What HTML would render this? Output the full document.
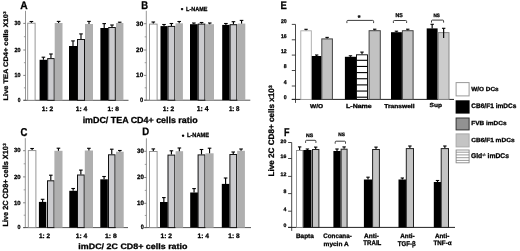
<!DOCTYPE html>
<html><head><meta charset="utf-8"><style>
html,body{margin:0;padding:0;background:#fff;}
svg{display:block;filter:blur(0.3px);}
text{font-family:"Liberation Sans",sans-serif;stroke:#000;stroke-width:0.28px;text-rendering:geometricPrecision;}
</style></head><body>
<svg width="520" height="251" viewBox="0 0 520 251">
<rect width="520" height="251" fill="#fff"/>
<line x1="25.50" y1="10.80" x2="25.50" y2="100.30" stroke="#8a8a8a" stroke-width="0.9"/>
<line x1="23.30" y1="100.30" x2="25.50" y2="100.30" stroke="#777" stroke-width="0.9"/>
<line x1="23.30" y1="75.40" x2="25.50" y2="75.40" stroke="#777" stroke-width="0.9"/>
<line x1="23.30" y1="50.00" x2="25.50" y2="50.00" stroke="#777" stroke-width="0.9"/>
<line x1="23.30" y1="23.40" x2="25.50" y2="23.40" stroke="#777" stroke-width="0.9"/>
<line x1="23.90" y1="87.85" x2="25.50" y2="87.85" stroke="#888" stroke-width="0.8"/>
<line x1="23.90" y1="62.70" x2="25.50" y2="62.70" stroke="#888" stroke-width="0.8"/>
<line x1="23.90" y1="36.70" x2="25.50" y2="36.70" stroke="#888" stroke-width="0.8"/>
<line x1="23.50" y1="100.30" x2="128.50" y2="100.30" stroke="#555" stroke-width="1"/>
<rect x="27.70" y="23.20" width="7.40" height="77.10" fill="#fff" stroke="#8a8a8a" stroke-width="0.9"/>
<line x1="31.40" y1="22.70" x2="31.40" y2="21.50" stroke="#000" stroke-width="1.15"/>
<line x1="29.60" y1="21.50" x2="33.20" y2="21.50" stroke="#000" stroke-width="1.1"/>
<rect x="39.60" y="59.80" width="7.60" height="40.50" fill="#000"/>
<line x1="43.40" y1="59.80" x2="43.40" y2="57.20" stroke="#000" stroke-width="1.15"/>
<line x1="41.60" y1="57.20" x2="45.20" y2="57.20" stroke="#000" stroke-width="1.1"/>
<rect x="47.70" y="58.60" width="6.50" height="41.70" fill="#cbcbce" stroke="#111" stroke-width="1"/>
<line x1="50.95" y1="58.10" x2="50.95" y2="54.00" stroke="#000" stroke-width="1.15"/>
<line x1="49.15" y1="54.00" x2="52.75" y2="54.00" stroke="#000" stroke-width="1.1"/>
<rect x="54.70" y="23.00" width="7.80" height="77.30" fill="#afafaf"/>
<line x1="58.60" y1="23.00" x2="58.60" y2="21.40" stroke="#000" stroke-width="1.15"/>
<line x1="56.80" y1="21.40" x2="60.40" y2="21.40" stroke="#000" stroke-width="1.1"/>
<rect x="69.00" y="46.00" width="8.00" height="54.30" fill="#000"/>
<line x1="73.00" y1="46.00" x2="73.00" y2="40.90" stroke="#000" stroke-width="1.15"/>
<line x1="71.20" y1="40.90" x2="74.80" y2="40.90" stroke="#000" stroke-width="1.1"/>
<rect x="77.50" y="39.50" width="7.00" height="60.80" fill="#cbcbce" stroke="#111" stroke-width="1"/>
<line x1="81.00" y1="39.00" x2="81.00" y2="33.90" stroke="#000" stroke-width="1.15"/>
<line x1="79.20" y1="33.90" x2="82.80" y2="33.90" stroke="#000" stroke-width="1.1"/>
<rect x="85.00" y="24.00" width="8.00" height="76.30" fill="#afafaf"/>
<line x1="89.00" y1="24.00" x2="89.00" y2="21.40" stroke="#000" stroke-width="1.15"/>
<line x1="87.20" y1="21.40" x2="90.80" y2="21.40" stroke="#000" stroke-width="1.1"/>
<rect x="100.40" y="28.00" width="7.60" height="72.30" fill="#000"/>
<line x1="104.20" y1="28.00" x2="104.20" y2="23.60" stroke="#000" stroke-width="1.15"/>
<line x1="102.40" y1="23.60" x2="106.00" y2="23.60" stroke="#000" stroke-width="1.1"/>
<rect x="108.70" y="27.50" width="6.60" height="72.80" fill="#cbcbce" stroke="#111" stroke-width="1"/>
<line x1="112.00" y1="27.00" x2="112.00" y2="25.00" stroke="#000" stroke-width="1.15"/>
<line x1="110.20" y1="25.00" x2="113.80" y2="25.00" stroke="#000" stroke-width="1.1"/>
<rect x="116.00" y="23.00" width="7.40" height="77.30" fill="#afafaf"/>
<line x1="119.70" y1="23.00" x2="119.70" y2="22.20" stroke="#000" stroke-width="1.15"/>
<line x1="117.90" y1="22.20" x2="121.50" y2="22.20" stroke="#000" stroke-width="1.1"/>
<text x="17.70" y="102.09" font-size="6.06" text-anchor="start" font-weight="bold" fill="#000" textLength="2.71" lengthAdjust="spacingAndGlyphs" >0</text>
<text x="14.40" y="77.19" font-size="6.06" text-anchor="start" font-weight="bold" fill="#000" textLength="6.01" lengthAdjust="spacingAndGlyphs" >10</text>
<text x="14.40" y="51.79" font-size="6.06" text-anchor="start" font-weight="bold" fill="#000" textLength="6.01" lengthAdjust="spacingAndGlyphs" >20</text>
<text x="14.40" y="25.19" font-size="6.06" text-anchor="start" font-weight="bold" fill="#000" textLength="6.01" lengthAdjust="spacingAndGlyphs" >30</text>
<text x="20.25" y="8.85" font-size="11.01" text-anchor="start" font-weight="bold" fill="#000" textLength="7.42" lengthAdjust="spacingAndGlyphs" >A</text>
<text x="41.70" y="110.70" font-size="6.43" text-anchor="start" font-weight="bold" fill="#000" textLength="11.49" lengthAdjust="spacingAndGlyphs" >1: 2</text>
<text x="75.80" y="110.50" font-size="6.52" text-anchor="start" font-weight="bold" fill="#000" textLength="11.49" lengthAdjust="spacingAndGlyphs" >1: 4</text>
<text x="107.50" y="110.64" font-size="6.34" text-anchor="start" font-weight="bold" fill="#000" textLength="11.39" lengthAdjust="spacingAndGlyphs" >1: 8</text>
<text x="82.65" y="123.08" font-size="8.72" text-anchor="start" font-weight="bold" fill="#000" textLength="114.99" lengthAdjust="spacingAndGlyphs" >imDC/ TEA CD4+ cells ratio</text>
<g transform="translate(8.00,100.40) rotate(-90)"><text x="0.00" y="0" font-size="6.62" font-weight="bold" textLength="86.38" lengthAdjust="spacingAndGlyphs">Live TEA CD4+ cells X10</text><text x="86.68" y="-1.91" font-size="3.97" font-weight="bold">3</text></g>
<line x1="146.30" y1="10.80" x2="146.30" y2="100.20" stroke="#8a8a8a" stroke-width="0.9"/>
<line x1="144.10" y1="100.20" x2="146.30" y2="100.20" stroke="#777" stroke-width="0.9"/>
<line x1="144.10" y1="75.40" x2="146.30" y2="75.40" stroke="#777" stroke-width="0.9"/>
<line x1="144.10" y1="50.00" x2="146.30" y2="50.00" stroke="#777" stroke-width="0.9"/>
<line x1="144.10" y1="23.70" x2="146.30" y2="23.70" stroke="#777" stroke-width="0.9"/>
<line x1="144.70" y1="87.80" x2="146.30" y2="87.80" stroke="#888" stroke-width="0.8"/>
<line x1="144.70" y1="62.70" x2="146.30" y2="62.70" stroke="#888" stroke-width="0.8"/>
<line x1="144.70" y1="36.85" x2="146.30" y2="36.85" stroke="#888" stroke-width="0.8"/>
<line x1="144.30" y1="100.20" x2="250.30" y2="100.20" stroke="#555" stroke-width="1"/>
<rect x="149.50" y="24.10" width="7.60" height="76.10" fill="#fff" stroke="#8a8a8a" stroke-width="0.9"/>
<line x1="153.30" y1="23.60" x2="153.30" y2="22.00" stroke="#000" stroke-width="1.15"/>
<line x1="151.50" y1="22.00" x2="155.10" y2="22.00" stroke="#000" stroke-width="1.1"/>
<rect x="160.50" y="26.10" width="7.00" height="74.10" fill="#000"/>
<line x1="164.00" y1="26.10" x2="164.00" y2="24.50" stroke="#000" stroke-width="1.15"/>
<line x1="162.20" y1="24.50" x2="165.80" y2="24.50" stroke="#000" stroke-width="1.1"/>
<rect x="168.00" y="26.40" width="6.80" height="73.80" fill="#cbcbce" stroke="#111" stroke-width="1"/>
<line x1="171.40" y1="25.90" x2="171.40" y2="23.50" stroke="#000" stroke-width="1.15"/>
<line x1="169.60" y1="23.50" x2="173.20" y2="23.50" stroke="#000" stroke-width="1.1"/>
<rect x="175.50" y="23.30" width="7.40" height="76.90" fill="#afafaf"/>
<line x1="179.20" y1="23.30" x2="179.20" y2="21.50" stroke="#000" stroke-width="1.15"/>
<line x1="177.40" y1="21.50" x2="181.00" y2="21.50" stroke="#000" stroke-width="1.1"/>
<rect x="190.00" y="24.20" width="7.70" height="76.00" fill="#000"/>
<line x1="193.85" y1="24.20" x2="193.85" y2="23.00" stroke="#000" stroke-width="1.15"/>
<line x1="192.05" y1="23.00" x2="195.65" y2="23.00" stroke="#000" stroke-width="1.1"/>
<rect x="198.20" y="24.10" width="6.70" height="76.10" fill="#cbcbce" stroke="#111" stroke-width="1"/>
<line x1="201.55" y1="23.60" x2="201.55" y2="22.50" stroke="#000" stroke-width="1.15"/>
<line x1="199.75" y1="22.50" x2="203.35" y2="22.50" stroke="#000" stroke-width="1.1"/>
<rect x="205.50" y="24.20" width="8.50" height="76.00" fill="#afafaf"/>
<line x1="209.75" y1="24.20" x2="209.75" y2="23.00" stroke="#000" stroke-width="1.15"/>
<line x1="207.95" y1="23.00" x2="211.55" y2="23.00" stroke="#000" stroke-width="1.1"/>
<rect x="222.20" y="24.90" width="7.40" height="75.30" fill="#000"/>
<line x1="225.90" y1="24.90" x2="225.90" y2="23.50" stroke="#000" stroke-width="1.15"/>
<line x1="224.10" y1="23.50" x2="227.70" y2="23.50" stroke="#000" stroke-width="1.1"/>
<rect x="230.10" y="24.70" width="6.70" height="75.50" fill="#cbcbce" stroke="#111" stroke-width="1"/>
<line x1="233.45" y1="24.20" x2="233.45" y2="21.70" stroke="#000" stroke-width="1.15"/>
<line x1="231.65" y1="21.70" x2="235.25" y2="21.70" stroke="#000" stroke-width="1.1"/>
<rect x="237.80" y="23.60" width="7.50" height="76.60" fill="#afafaf"/>
<line x1="241.55" y1="23.60" x2="241.55" y2="20.40" stroke="#000" stroke-width="1.15"/>
<line x1="239.75" y1="20.40" x2="243.35" y2="20.40" stroke="#000" stroke-width="1.1"/>
<text x="140.00" y="102.09" font-size="6.34" text-anchor="start" font-weight="bold" fill="#000" textLength="3.20" lengthAdjust="spacingAndGlyphs" >0</text>
<text x="136.10" y="77.29" font-size="6.34" text-anchor="start" font-weight="bold" fill="#000" textLength="7.11" lengthAdjust="spacingAndGlyphs" >10</text>
<text x="136.10" y="51.89" font-size="6.34" text-anchor="start" font-weight="bold" fill="#000" textLength="7.11" lengthAdjust="spacingAndGlyphs" >20</text>
<text x="136.10" y="25.59" font-size="6.34" text-anchor="start" font-weight="bold" fill="#000" textLength="7.11" lengthAdjust="spacingAndGlyphs" >30</text>
<text x="141.25" y="8.85" font-size="11.16" text-anchor="start" font-weight="bold" fill="#000" textLength="6.82" lengthAdjust="spacingAndGlyphs" >B</text>
<text x="162.70" y="111.20" font-size="6.43" text-anchor="start" font-weight="bold" fill="#000" textLength="11.49" lengthAdjust="spacingAndGlyphs" >1: 2</text>
<text x="196.80" y="111.40" font-size="7.25" text-anchor="start" font-weight="bold" fill="#000" textLength="11.79" lengthAdjust="spacingAndGlyphs" >1: 4</text>
<text x="228.90" y="111.33" font-size="7.04" text-anchor="start" font-weight="bold" fill="#000" textLength="10.59" lengthAdjust="spacingAndGlyphs" >1: 8</text>
<line x1="180.90" y1="9.05" x2="183.20" y2="9.05" stroke="#000" stroke-width="1.3"/>
<line x1="182.05" y1="7.90" x2="182.05" y2="10.20" stroke="#000" stroke-width="1.3"/>
<text x="186.10" y="10.90" font-size="5.94" text-anchor="start" font-weight="bold" fill="#000" textLength="21.39" lengthAdjust="spacingAndGlyphs" >L-NAME</text>
<line x1="25.30" y1="138.20" x2="25.30" y2="227.60" stroke="#8a8a8a" stroke-width="0.9"/>
<line x1="23.10" y1="227.60" x2="25.30" y2="227.60" stroke="#777" stroke-width="0.9"/>
<line x1="23.10" y1="202.80" x2="25.30" y2="202.80" stroke="#777" stroke-width="0.9"/>
<line x1="23.10" y1="176.90" x2="25.30" y2="176.90" stroke="#777" stroke-width="0.9"/>
<line x1="23.10" y1="150.70" x2="25.30" y2="150.70" stroke="#777" stroke-width="0.9"/>
<line x1="23.70" y1="215.20" x2="25.30" y2="215.20" stroke="#888" stroke-width="0.8"/>
<line x1="23.70" y1="189.85" x2="25.30" y2="189.85" stroke="#888" stroke-width="0.8"/>
<line x1="23.70" y1="163.80" x2="25.30" y2="163.80" stroke="#888" stroke-width="0.8"/>
<line x1="23.30" y1="227.60" x2="128.00" y2="227.60" stroke="#555" stroke-width="1"/>
<rect x="28.30" y="150.60" width="7.60" height="77.00" fill="#fff" stroke="#8a8a8a" stroke-width="0.9"/>
<line x1="32.10" y1="150.10" x2="32.10" y2="148.50" stroke="#000" stroke-width="1.15"/>
<line x1="30.30" y1="148.50" x2="33.90" y2="148.50" stroke="#000" stroke-width="1.1"/>
<rect x="38.90" y="201.90" width="7.40" height="25.70" fill="#000"/>
<line x1="42.60" y1="201.90" x2="42.60" y2="199.30" stroke="#000" stroke-width="1.15"/>
<line x1="40.80" y1="199.30" x2="44.40" y2="199.30" stroke="#000" stroke-width="1.1"/>
<rect x="47.50" y="180.80" width="6.60" height="46.80" fill="#cbcbce" stroke="#111" stroke-width="1"/>
<line x1="50.80" y1="180.30" x2="50.80" y2="175.20" stroke="#000" stroke-width="1.15"/>
<line x1="49.00" y1="175.20" x2="52.60" y2="175.20" stroke="#000" stroke-width="1.1"/>
<rect x="54.40" y="150.80" width="8.10" height="76.80" fill="#afafaf"/>
<line x1="58.45" y1="150.80" x2="58.45" y2="148.20" stroke="#000" stroke-width="1.15"/>
<line x1="56.65" y1="148.20" x2="60.25" y2="148.20" stroke="#000" stroke-width="1.1"/>
<rect x="69.30" y="190.80" width="7.70" height="36.80" fill="#000"/>
<line x1="73.15" y1="190.80" x2="73.15" y2="188.50" stroke="#000" stroke-width="1.15"/>
<line x1="71.35" y1="188.50" x2="74.95" y2="188.50" stroke="#000" stroke-width="1.1"/>
<rect x="77.50" y="175.00" width="6.70" height="52.60" fill="#cbcbce" stroke="#111" stroke-width="1"/>
<line x1="80.85" y1="174.50" x2="80.85" y2="170.10" stroke="#000" stroke-width="1.15"/>
<line x1="79.05" y1="170.10" x2="82.65" y2="170.10" stroke="#000" stroke-width="1.1"/>
<rect x="84.80" y="150.50" width="8.20" height="77.10" fill="#afafaf"/>
<line x1="88.90" y1="150.50" x2="88.90" y2="148.30" stroke="#000" stroke-width="1.15"/>
<line x1="87.10" y1="148.30" x2="90.70" y2="148.30" stroke="#000" stroke-width="1.1"/>
<rect x="100.30" y="179.30" width="7.50" height="48.30" fill="#000"/>
<line x1="104.05" y1="179.30" x2="104.05" y2="176.50" stroke="#000" stroke-width="1.15"/>
<line x1="102.25" y1="176.50" x2="105.85" y2="176.50" stroke="#000" stroke-width="1.1"/>
<rect x="108.50" y="154.80" width="6.50" height="72.80" fill="#cbcbce" stroke="#111" stroke-width="1"/>
<line x1="111.75" y1="154.30" x2="111.75" y2="149.20" stroke="#000" stroke-width="1.15"/>
<line x1="109.95" y1="149.20" x2="113.55" y2="149.20" stroke="#000" stroke-width="1.1"/>
<rect x="116.00" y="151.70" width="7.70" height="75.90" fill="#afafaf"/>
<line x1="119.85" y1="151.70" x2="119.85" y2="150.50" stroke="#000" stroke-width="1.15"/>
<line x1="118.05" y1="150.50" x2="121.65" y2="150.50" stroke="#000" stroke-width="1.1"/>
<text x="17.53" y="229.39" font-size="6.06" text-anchor="start" font-weight="bold" fill="#000" textLength="2.98" lengthAdjust="spacingAndGlyphs" >0</text>
<text x="13.90" y="204.59" font-size="6.06" text-anchor="start" font-weight="bold" fill="#000" textLength="6.61" lengthAdjust="spacingAndGlyphs" >10</text>
<text x="13.90" y="178.69" font-size="6.06" text-anchor="start" font-weight="bold" fill="#000" textLength="6.61" lengthAdjust="spacingAndGlyphs" >20</text>
<text x="13.90" y="152.49" font-size="6.06" text-anchor="start" font-weight="bold" fill="#000" textLength="6.61" lengthAdjust="spacingAndGlyphs" >30</text>
<text x="20.55" y="135.64" font-size="11.41" text-anchor="start" font-weight="bold" fill="#000" textLength="6.92" lengthAdjust="spacingAndGlyphs" >C</text>
<text x="39.00" y="237.50" font-size="6.57" text-anchor="start" font-weight="bold" fill="#000" textLength="11.19" lengthAdjust="spacingAndGlyphs" >1: 2</text>
<text x="75.80" y="237.70" font-size="6.52" text-anchor="start" font-weight="bold" fill="#000" textLength="11.49" lengthAdjust="spacingAndGlyphs" >1: 4</text>
<text x="105.10" y="237.64" font-size="6.34" text-anchor="start" font-weight="bold" fill="#000" textLength="11.69" lengthAdjust="spacingAndGlyphs" >1: 8</text>
<text x="78.35" y="248.99" font-size="7.92" text-anchor="start" font-weight="bold" fill="#000" textLength="109.10" lengthAdjust="spacingAndGlyphs" >imDC/ 2C CD8+ cells ratio</text>
<g transform="translate(8.00,226.50) rotate(-90)"><text x="0.00" y="0" font-size="7.45" font-weight="bold" textLength="80.41" lengthAdjust="spacingAndGlyphs">Live 2C CD8+ cells X10</text><text x="80.71" y="-2.15" font-size="4.47" font-weight="bold">3</text></g>
<line x1="146.40" y1="138.30" x2="146.40" y2="227.60" stroke="#8a8a8a" stroke-width="0.9"/>
<line x1="144.20" y1="227.60" x2="146.40" y2="227.60" stroke="#777" stroke-width="0.9"/>
<line x1="144.20" y1="203.30" x2="146.40" y2="203.30" stroke="#777" stroke-width="0.9"/>
<line x1="144.20" y1="177.50" x2="146.40" y2="177.50" stroke="#777" stroke-width="0.9"/>
<line x1="144.20" y1="151.30" x2="146.40" y2="151.30" stroke="#777" stroke-width="0.9"/>
<line x1="144.80" y1="215.45" x2="146.40" y2="215.45" stroke="#888" stroke-width="0.8"/>
<line x1="144.80" y1="190.40" x2="146.40" y2="190.40" stroke="#888" stroke-width="0.8"/>
<line x1="144.80" y1="164.40" x2="146.40" y2="164.40" stroke="#888" stroke-width="0.8"/>
<line x1="144.40" y1="227.60" x2="251.00" y2="227.60" stroke="#555" stroke-width="1"/>
<rect x="149.50" y="151.50" width="7.60" height="76.10" fill="#fff" stroke="#8a8a8a" stroke-width="0.9"/>
<line x1="153.30" y1="151.00" x2="153.30" y2="148.90" stroke="#000" stroke-width="1.15"/>
<line x1="151.50" y1="148.90" x2="155.10" y2="148.90" stroke="#000" stroke-width="1.1"/>
<rect x="160.00" y="202.00" width="7.70" height="25.60" fill="#000"/>
<line x1="163.85" y1="202.00" x2="163.85" y2="197.60" stroke="#000" stroke-width="1.15"/>
<line x1="162.05" y1="197.60" x2="165.65" y2="197.60" stroke="#000" stroke-width="1.1"/>
<rect x="168.00" y="155.10" width="6.80" height="72.50" fill="#cbcbce" stroke="#111" stroke-width="1"/>
<line x1="171.40" y1="154.60" x2="171.40" y2="150.80" stroke="#000" stroke-width="1.15"/>
<line x1="169.60" y1="150.80" x2="173.20" y2="150.80" stroke="#000" stroke-width="1.1"/>
<rect x="175.60" y="151.20" width="7.50" height="76.40" fill="#afafaf"/>
<line x1="179.35" y1="151.20" x2="179.35" y2="148.00" stroke="#000" stroke-width="1.15"/>
<line x1="177.55" y1="148.00" x2="181.15" y2="148.00" stroke="#000" stroke-width="1.1"/>
<rect x="190.20" y="192.50" width="7.70" height="35.10" fill="#000"/>
<line x1="194.05" y1="192.50" x2="194.05" y2="188.60" stroke="#000" stroke-width="1.15"/>
<line x1="192.25" y1="188.60" x2="195.85" y2="188.60" stroke="#000" stroke-width="1.1"/>
<rect x="198.10" y="154.90" width="6.80" height="72.70" fill="#cbcbce" stroke="#111" stroke-width="1"/>
<line x1="201.50" y1="154.40" x2="201.50" y2="149.50" stroke="#000" stroke-width="1.15"/>
<line x1="199.70" y1="149.50" x2="203.30" y2="149.50" stroke="#000" stroke-width="1.1"/>
<rect x="205.50" y="153.30" width="8.10" height="74.30" fill="#afafaf"/>
<line x1="209.55" y1="153.30" x2="209.55" y2="148.20" stroke="#000" stroke-width="1.15"/>
<line x1="207.75" y1="148.20" x2="211.35" y2="148.20" stroke="#000" stroke-width="1.1"/>
<rect x="221.80" y="183.90" width="7.60" height="43.70" fill="#000"/>
<line x1="225.60" y1="183.90" x2="225.60" y2="178.00" stroke="#000" stroke-width="1.15"/>
<line x1="223.80" y1="178.00" x2="227.40" y2="178.00" stroke="#000" stroke-width="1.1"/>
<rect x="229.90" y="154.50" width="6.70" height="73.10" fill="#cbcbce" stroke="#111" stroke-width="1"/>
<line x1="233.25" y1="154.00" x2="233.25" y2="152.00" stroke="#000" stroke-width="1.15"/>
<line x1="231.45" y1="152.00" x2="235.05" y2="152.00" stroke="#000" stroke-width="1.1"/>
<rect x="237.20" y="150.80" width="7.70" height="76.80" fill="#afafaf"/>
<line x1="241.05" y1="150.80" x2="241.05" y2="149.00" stroke="#000" stroke-width="1.15"/>
<line x1="239.25" y1="149.00" x2="242.85" y2="149.00" stroke="#000" stroke-width="1.1"/>
<text x="140.84" y="229.49" font-size="6.34" text-anchor="start" font-weight="bold" fill="#000" textLength="3.07" lengthAdjust="spacingAndGlyphs" >0</text>
<text x="137.10" y="205.19" font-size="6.34" text-anchor="start" font-weight="bold" fill="#000" textLength="6.81" lengthAdjust="spacingAndGlyphs" >10</text>
<text x="137.10" y="179.39" font-size="6.34" text-anchor="start" font-weight="bold" fill="#000" textLength="6.81" lengthAdjust="spacingAndGlyphs" >20</text>
<text x="137.10" y="153.19" font-size="6.34" text-anchor="start" font-weight="bold" fill="#000" textLength="6.81" lengthAdjust="spacingAndGlyphs" >30</text>
<text x="142.25" y="135.35" font-size="10.72" text-anchor="start" font-weight="bold" fill="#000" textLength="6.92" lengthAdjust="spacingAndGlyphs" >D</text>
<text x="160.40" y="237.70" font-size="6.43" text-anchor="start" font-weight="bold" fill="#000" textLength="11.59" lengthAdjust="spacingAndGlyphs" >1: 2</text>
<text x="197.50" y="237.70" font-size="6.52" text-anchor="start" font-weight="bold" fill="#000" textLength="11.49" lengthAdjust="spacingAndGlyphs" >1: 4</text>
<text x="228.30" y="237.63" font-size="6.62" text-anchor="start" font-weight="bold" fill="#000" textLength="11.29" lengthAdjust="spacingAndGlyphs" >1: 8</text>
<line x1="181.90" y1="135.65" x2="184.20" y2="135.65" stroke="#000" stroke-width="1.3"/>
<line x1="183.05" y1="134.40" x2="183.05" y2="136.90" stroke="#000" stroke-width="1.3"/>
<text x="186.90" y="137.20" font-size="6.09" text-anchor="start" font-weight="bold" fill="#000" textLength="22.19" lengthAdjust="spacingAndGlyphs" >L-NAME</text>
<line x1="295.50" y1="24.40" x2="295.50" y2="102.90" stroke="#333" stroke-width="0.9"/>
<line x1="291.80" y1="99.40" x2="295.50" y2="99.40" stroke="#333" stroke-width="0.9"/>
<text x="283.75" y="98.90" font-size="5.49" text-anchor="start" font-weight="bold" fill="#000" textLength="2.86" lengthAdjust="spacingAndGlyphs" >0</text>
<line x1="291.80" y1="86.00" x2="295.50" y2="86.00" stroke="#333" stroke-width="0.9"/>
<text x="283.75" y="83.85" font-size="5.65" text-anchor="start" font-weight="bold" fill="#000" textLength="2.86" lengthAdjust="spacingAndGlyphs" >4</text>
<line x1="291.80" y1="70.50" x2="295.50" y2="70.50" stroke="#333" stroke-width="0.9"/>
<text x="283.75" y="68.20" font-size="5.49" text-anchor="start" font-weight="bold" fill="#000" textLength="2.86" lengthAdjust="spacingAndGlyphs" >8</text>
<line x1="291.80" y1="55.10" x2="295.50" y2="55.10" stroke="#333" stroke-width="0.9"/>
<text x="280.90" y="52.75" font-size="5.57" text-anchor="start" font-weight="bold" fill="#000" textLength="5.71" lengthAdjust="spacingAndGlyphs" >12</text>
<line x1="291.80" y1="39.80" x2="295.50" y2="39.80" stroke="#333" stroke-width="0.9"/>
<text x="280.90" y="38.00" font-size="5.49" text-anchor="start" font-weight="bold" fill="#000" textLength="5.71" lengthAdjust="spacingAndGlyphs" >16</text>
<line x1="291.80" y1="24.40" x2="295.50" y2="24.40" stroke="#333" stroke-width="0.9"/>
<text x="280.90" y="23.20" font-size="5.49" text-anchor="start" font-weight="bold" fill="#000" textLength="5.71" lengthAdjust="spacingAndGlyphs" >20</text>
<line x1="291.80" y1="99.40" x2="454.00" y2="99.40" stroke="#222" stroke-width="1"/>
<rect x="300.80" y="30.80" width="10.50" height="68.60" fill="#fff" stroke="#a8a8a8" stroke-width="0.9"/>
<line x1="306.05" y1="30.30" x2="306.05" y2="29.30" stroke="#000" stroke-width="1.15"/>
<line x1="304.35" y1="29.30" x2="307.75" y2="29.30" stroke="#000" stroke-width="1.1"/>
<rect x="311.80" y="56.00" width="9.70" height="43.40" fill="#000"/>
<line x1="316.65" y1="56.00" x2="316.65" y2="55.00" stroke="#000" stroke-width="1.15"/>
<line x1="314.95" y1="55.00" x2="318.35" y2="55.00" stroke="#000" stroke-width="1.1"/>
<rect x="321.80" y="38.90" width="10.60" height="60.50" fill="#c2c2c2" stroke="#444" stroke-width="1"/>
<line x1="327.10" y1="38.40" x2="327.10" y2="37.40" stroke="#000" stroke-width="1.15"/>
<line x1="325.40" y1="37.40" x2="328.80" y2="37.40" stroke="#000" stroke-width="1.1"/>
<rect x="344.90" y="56.80" width="11.10" height="42.60" fill="#000"/>
<line x1="350.45" y1="56.80" x2="350.45" y2="55.80" stroke="#000" stroke-width="1.15"/>
<line x1="348.75" y1="55.80" x2="352.15" y2="55.80" stroke="#000" stroke-width="1.1"/>
<rect x="356.50" y="54.80" width="11.00" height="44.60" fill="#fff" stroke="#000" stroke-width="0.9"/>
<line x1="356.50" y1="60.30" x2="367.50" y2="60.30" stroke="#000" stroke-width="1.1"/>
<line x1="356.50" y1="66.45" x2="367.50" y2="66.45" stroke="#000" stroke-width="1.1"/>
<line x1="356.50" y1="72.60" x2="367.50" y2="72.60" stroke="#000" stroke-width="1.1"/>
<line x1="356.50" y1="78.75" x2="367.50" y2="78.75" stroke="#000" stroke-width="1.1"/>
<line x1="356.50" y1="84.90" x2="367.50" y2="84.90" stroke="#000" stroke-width="1.1"/>
<line x1="356.50" y1="91.05" x2="367.50" y2="91.05" stroke="#000" stroke-width="1.1"/>
<line x1="356.50" y1="97.20" x2="367.50" y2="97.20" stroke="#000" stroke-width="1.1"/>
<line x1="362.00" y1="54.30" x2="362.00" y2="52.10" stroke="#000" stroke-width="1.15"/>
<line x1="360.30" y1="52.10" x2="363.70" y2="52.10" stroke="#000" stroke-width="1.1"/>
<rect x="369.10" y="30.70" width="11.20" height="68.70" fill="#c2c2c2" stroke="#444" stroke-width="1"/>
<line x1="374.70" y1="30.20" x2="374.70" y2="29.20" stroke="#000" stroke-width="1.15"/>
<line x1="373.00" y1="29.20" x2="376.40" y2="29.20" stroke="#000" stroke-width="1.1"/>
<rect x="391.00" y="32.20" width="10.90" height="67.20" fill="#000"/>
<line x1="396.45" y1="32.20" x2="396.45" y2="31.20" stroke="#000" stroke-width="1.15"/>
<line x1="394.75" y1="31.20" x2="398.15" y2="31.20" stroke="#000" stroke-width="1.1"/>
<rect x="402.40" y="30.70" width="10.70" height="68.70" fill="#c2c2c2" stroke="#444" stroke-width="1"/>
<line x1="407.75" y1="30.20" x2="407.75" y2="29.20" stroke="#000" stroke-width="1.15"/>
<line x1="406.05" y1="29.20" x2="409.45" y2="29.20" stroke="#000" stroke-width="1.1"/>
<rect x="426.70" y="28.40" width="10.90" height="71.00" fill="#000"/>
<line x1="432.15" y1="28.40" x2="432.15" y2="24.30" stroke="#000" stroke-width="1.15"/>
<line x1="430.45" y1="24.30" x2="433.85" y2="24.30" stroke="#000" stroke-width="1.1"/>
<rect x="438.30" y="32.60" width="10.70" height="66.80" fill="#cccccc" stroke="#888" stroke-width="1"/>
<line x1="443.65" y1="37.90" x2="443.65" y2="28.30" stroke="#000" stroke-width="1.15"/>
<line x1="441.95" y1="28.30" x2="445.35" y2="28.30" stroke="#000" stroke-width="1.1"/>
<text x="280.45" y="8.85" font-size="11.01" text-anchor="start" font-weight="bold" fill="#000" textLength="6.32" lengthAdjust="spacingAndGlyphs" >E</text>
<path d="M346.9,23.1 L346.9,21.299999999999997 Q346.9,20.4 347.79999999999995,20.4 L372.70000000000005,20.4 Q373.6,20.4 373.6,21.299999999999997 L373.6,23.1" fill="none" stroke="#333" stroke-width="0.95"/>
<text x="359.20" y="19.50" font-size="7.00" text-anchor="middle" font-weight="bold" fill="#000" >*</text>
<path d="M393.4,23.0 L393.4,21.4 Q393.4,20.5 394.29999999999995,20.5 L405.70000000000005,20.5 Q406.6,20.5 406.6,21.4 L406.6,23.0" fill="none" stroke="#333" stroke-width="0.95"/>
<text x="395.50" y="17.25" font-size="5.49" text-anchor="start" font-weight="bold" fill="#000" textLength="7.30" lengthAdjust="spacingAndGlyphs" >NS</text>
<path d="M431.5,22.6 L431.5,21.0 Q431.5,20.1 432.4,20.1 L442.70000000000005,20.1 Q443.6,20.1 443.6,21.0 L443.6,22.6" fill="none" stroke="#333" stroke-width="0.95"/>
<text x="433.40" y="16.55" font-size="4.93" text-anchor="start" font-weight="bold" fill="#000" textLength="6.40" lengthAdjust="spacingAndGlyphs" >NS</text>
<text x="310.00" y="107.69" font-size="5.64" text-anchor="start" font-weight="bold" fill="#000" textLength="13.10" lengthAdjust="spacingAndGlyphs" >W/O</text>
<text x="346.00" y="107.74" font-size="6.00" text-anchor="start" font-weight="bold" fill="#000" textLength="25.78" lengthAdjust="spacingAndGlyphs" >L-Name</text>
<text x="384.20" y="107.74" font-size="5.71" text-anchor="start" font-weight="bold" fill="#000" textLength="30.38" lengthAdjust="spacingAndGlyphs" >Transwell</text>
<text x="429.60" y="107.35" font-size="5.93" text-anchor="start" font-weight="bold" fill="#000" textLength="12.39" lengthAdjust="spacingAndGlyphs" >Sup</text>
<g transform="translate(273.90,176.40) rotate(-90)"><text x="0.00" y="0" font-size="8.00" font-weight="bold" textLength="88.12" lengthAdjust="spacingAndGlyphs">Live 2C CD8+ cells x10</text><text x="88.42" y="-2.30" font-size="4.80" font-weight="bold">3</text></g>
<line x1="291.70" y1="142.50" x2="291.70" y2="230.90" stroke="#333" stroke-width="0.9"/>
<line x1="288.10" y1="227.40" x2="291.70" y2="227.40" stroke="#333" stroke-width="0.9"/>
<text x="283.45" y="227.25" font-size="5.07" text-anchor="start" font-weight="bold" fill="#000" textLength="2.86" lengthAdjust="spacingAndGlyphs" >0</text>
<line x1="288.10" y1="211.20" x2="291.70" y2="211.20" stroke="#333" stroke-width="0.9"/>
<text x="283.45" y="210.60" font-size="5.22" text-anchor="start" font-weight="bold" fill="#000" textLength="2.86" lengthAdjust="spacingAndGlyphs" >4</text>
<line x1="288.10" y1="193.60" x2="291.70" y2="193.60" stroke="#333" stroke-width="0.9"/>
<text x="283.45" y="192.95" font-size="5.07" text-anchor="start" font-weight="bold" fill="#000" textLength="2.86" lengthAdjust="spacingAndGlyphs" >8</text>
<line x1="288.10" y1="176.40" x2="291.70" y2="176.40" stroke="#333" stroke-width="0.9"/>
<text x="280.60" y="175.70" font-size="5.14" text-anchor="start" font-weight="bold" fill="#000" textLength="5.71" lengthAdjust="spacingAndGlyphs" >12</text>
<line x1="288.10" y1="158.50" x2="291.70" y2="158.50" stroke="#333" stroke-width="0.9"/>
<text x="280.60" y="158.05" font-size="5.07" text-anchor="start" font-weight="bold" fill="#000" textLength="5.71" lengthAdjust="spacingAndGlyphs" >16</text>
<line x1="288.10" y1="142.50" x2="291.70" y2="142.50" stroke="#333" stroke-width="0.9"/>
<text x="280.60" y="142.75" font-size="5.07" text-anchor="start" font-weight="bold" fill="#000" textLength="5.71" lengthAdjust="spacingAndGlyphs" >20</text>
<line x1="288.10" y1="227.40" x2="455.00" y2="227.40" stroke="#222" stroke-width="1"/>
<rect x="296.50" y="150.50" width="6.30" height="76.90" fill="#fff" stroke="#8a8a8a" stroke-width="0.9"/>
<line x1="299.65" y1="150.00" x2="299.65" y2="146.90" stroke="#000" stroke-width="1.15"/>
<line x1="297.95" y1="146.90" x2="301.35" y2="146.90" stroke="#000" stroke-width="1.1"/>
<rect x="303.30" y="150.00" width="8.20" height="77.40" fill="#000"/>
<line x1="307.40" y1="150.00" x2="307.40" y2="149.00" stroke="#000" stroke-width="1.15"/>
<line x1="305.70" y1="149.00" x2="309.10" y2="149.00" stroke="#000" stroke-width="1.1"/>
<rect x="312.50" y="149.50" width="6.40" height="77.90" fill="#c4c4c4" stroke="#222" stroke-width="1"/>
<line x1="315.70" y1="149.00" x2="315.70" y2="147.10" stroke="#000" stroke-width="1.15"/>
<line x1="314.00" y1="147.10" x2="317.40" y2="147.10" stroke="#000" stroke-width="1.1"/>
<rect x="333.40" y="151.00" width="7.20" height="76.40" fill="#000"/>
<line x1="337.00" y1="151.00" x2="337.00" y2="149.00" stroke="#000" stroke-width="1.15"/>
<line x1="335.30" y1="149.00" x2="338.70" y2="149.00" stroke="#000" stroke-width="1.1"/>
<rect x="341.10" y="149.20" width="6.00" height="78.20" fill="#c4c4c4" stroke="#222" stroke-width="1"/>
<line x1="344.10" y1="148.70" x2="344.10" y2="146.90" stroke="#000" stroke-width="1.15"/>
<line x1="342.40" y1="146.90" x2="345.80" y2="146.90" stroke="#000" stroke-width="1.1"/>
<rect x="363.90" y="179.50" width="8.20" height="47.90" fill="#000"/>
<line x1="368.00" y1="179.50" x2="368.00" y2="177.20" stroke="#000" stroke-width="1.15"/>
<line x1="366.30" y1="177.20" x2="369.70" y2="177.20" stroke="#000" stroke-width="1.1"/>
<rect x="372.60" y="149.50" width="6.80" height="77.90" fill="#c4c4c4" stroke="#222" stroke-width="1"/>
<line x1="376.00" y1="149.00" x2="376.00" y2="147.10" stroke="#000" stroke-width="1.15"/>
<line x1="374.30" y1="147.10" x2="377.70" y2="147.10" stroke="#000" stroke-width="1.1"/>
<rect x="398.50" y="179.50" width="7.70" height="47.90" fill="#000"/>
<line x1="402.35" y1="179.50" x2="402.35" y2="178.00" stroke="#000" stroke-width="1.15"/>
<line x1="400.65" y1="178.00" x2="404.05" y2="178.00" stroke="#000" stroke-width="1.1"/>
<rect x="406.30" y="148.60" width="7.20" height="78.80" fill="#c4c4c4" stroke="#222" stroke-width="1"/>
<line x1="409.90" y1="148.10" x2="409.90" y2="146.00" stroke="#000" stroke-width="1.15"/>
<line x1="408.20" y1="146.00" x2="411.60" y2="146.00" stroke="#000" stroke-width="1.1"/>
<rect x="433.80" y="182.00" width="7.40" height="45.40" fill="#000"/>
<line x1="437.50" y1="182.00" x2="437.50" y2="180.50" stroke="#000" stroke-width="1.15"/>
<line x1="435.80" y1="180.50" x2="439.20" y2="180.50" stroke="#000" stroke-width="1.1"/>
<rect x="441.20" y="148.60" width="7.30" height="78.80" fill="#c4c4c4" stroke="#222" stroke-width="1"/>
<line x1="444.85" y1="148.10" x2="444.85" y2="146.00" stroke="#000" stroke-width="1.15"/>
<line x1="443.15" y1="146.00" x2="446.55" y2="146.00" stroke="#000" stroke-width="1.1"/>
<text x="283.95" y="135.55" font-size="11.45" text-anchor="start" font-weight="bold" fill="#000" textLength="5.51" lengthAdjust="spacingAndGlyphs" >F</text>
<path d="M305.6,142.9 L305.6,141.20000000000002 Q305.6,140.3 306.5,140.3 L315.0,140.3 Q315.9,140.3 315.9,141.20000000000002 L315.9,142.9" fill="none" stroke="#333" stroke-width="0.95"/>
<text x="305.90" y="137.45" font-size="4.93" text-anchor="start" font-weight="bold" fill="#000" textLength="7.20" lengthAdjust="spacingAndGlyphs" >NS</text>
<path d="M335.2,143.7 L335.2,142.1 Q335.2,141.2 336.09999999999997,141.2 L344.6,141.2 Q345.5,141.2 345.5,142.1 L345.5,143.7" fill="none" stroke="#333" stroke-width="0.95"/>
<text x="338.20" y="136.35" font-size="4.79" text-anchor="start" font-weight="bold" fill="#000" textLength="6.70" lengthAdjust="spacingAndGlyphs" >NS</text>
<text x="295.90" y="237.87" font-size="6.33" text-anchor="start" font-weight="bold" fill="#000" textLength="17.96" lengthAdjust="spacingAndGlyphs" >Bapta</text>
<text x="323.20" y="238.13" font-size="6.62" text-anchor="start" font-weight="bold" fill="#000" textLength="28.61" lengthAdjust="spacingAndGlyphs" >Concana-</text>
<text x="323.60" y="245.72" font-size="6.10" text-anchor="start" font-weight="bold" fill="#000" textLength="25.09" lengthAdjust="spacingAndGlyphs" >mycin A</text>
<text x="364.05" y="237.69" font-size="6.39" text-anchor="start" font-weight="bold" fill="#000" textLength="14.81" lengthAdjust="spacingAndGlyphs" >Anti-</text>
<text x="363.35" y="245.25" font-size="6.81" text-anchor="start" font-weight="bold" fill="#000" textLength="17.99" lengthAdjust="spacingAndGlyphs" >TRAIL</text>
<text x="400.25" y="238.29" font-size="6.26" text-anchor="start" font-weight="bold" fill="#000" textLength="14.41" lengthAdjust="spacingAndGlyphs" >Anti-</text>
<text x="397.75" y="245.89" font-size="6.95" text-anchor="start" font-weight="bold" fill="#000" textLength="17.89" lengthAdjust="spacingAndGlyphs" >TGF-β</text>
<text x="434.95" y="237.59" font-size="6.26" text-anchor="start" font-weight="bold" fill="#000" textLength="14.41" lengthAdjust="spacingAndGlyphs" >Anti-</text>
<text x="433.55" y="245.19" font-size="6.43" text-anchor="start" font-weight="bold" fill="#000" textLength="18.01" lengthAdjust="spacingAndGlyphs" >TNF-α</text>
<rect x="456.10" y="82.60" width="13.00" height="13.30" fill="#fff" stroke="#999" stroke-width="1"/>
<text x="471.20" y="90.98" font-size="5.91" text-anchor="start" font-weight="bold" fill="#000" textLength="27.39" lengthAdjust="spacingAndGlyphs" >W/O DCs</text>
<rect x="455.60" y="100.30" width="14.00" height="13.30" fill="#000"/>
<text x="471.20" y="108.17" font-size="6.44" text-anchor="start" font-weight="bold" fill="#000" textLength="45.30" lengthAdjust="spacingAndGlyphs" >CB6/F1 imDCs</text>
<rect x="456.10" y="118.00" width="13.00" height="11.90" fill="#929292" stroke="#333" stroke-width="1"/>
<text x="471.20" y="124.84" font-size="5.85" text-anchor="start" font-weight="bold" fill="#000" textLength="35.40" lengthAdjust="spacingAndGlyphs" >FVB imDCs</text>
<rect x="456.10" y="133.90" width="13.00" height="13.00" fill="#c4c4c4" stroke="#aaa" stroke-width="1"/>
<text x="471.20" y="141.78" font-size="5.91" text-anchor="start" font-weight="bold" fill="#000" textLength="43.39" lengthAdjust="spacingAndGlyphs" >CB6/F1 mDCs</text>
<rect x="456.10" y="150.00" width="13.00" height="12.80" fill="#fff" stroke="#888" stroke-width="0.9"/>
<line x1="456.10" y1="152.20" x2="469.10" y2="152.20" stroke="#808080" stroke-width="0.8"/>
<line x1="456.10" y1="154.90" x2="469.10" y2="154.90" stroke="#808080" stroke-width="0.8"/>
<line x1="456.10" y1="157.70" x2="469.10" y2="157.70" stroke="#808080" stroke-width="0.8"/>
<line x1="456.10" y1="160.40" x2="469.10" y2="160.40" stroke="#808080" stroke-width="0.8"/>
<text x="470.9" y="158.3" font-size="6.8" font-weight="bold" textLength="38.1" lengthAdjust="spacingAndGlyphs">Gld<tspan font-size="3.6" dy="-2.6">-/-</tspan><tspan dy="2.6"> imDCs</tspan></text>
</svg></body></html>
